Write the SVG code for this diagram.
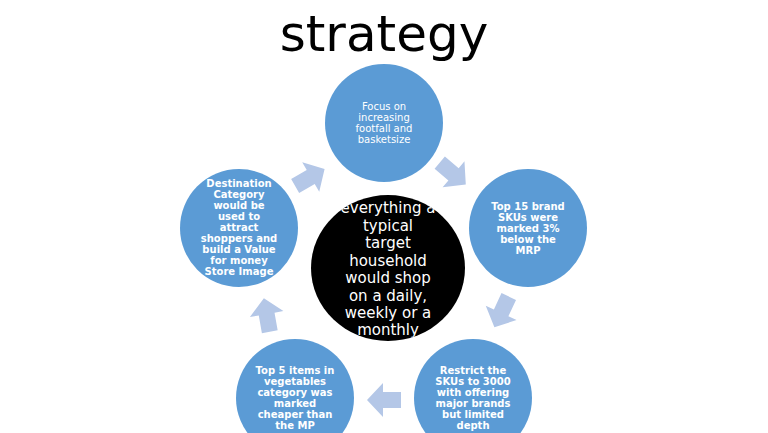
<svg xmlns="http://www.w3.org/2000/svg" width="768" height="433" viewBox="0 0 768 433">
<style>
.c{fill:#5b9bd5}
.t{font-family:"DejaVu Sans",sans-serif;font-size:10px;fill:#fff;text-anchor:middle;font-weight:bold}
.n{font-weight:normal}
.a{fill:#b4c7e7}
.m{font-family:"DejaVu Sans",sans-serif;font-size:15px;fill:#fff;text-anchor:middle}
</style>
<defs>
<clipPath id="cc"><ellipse cx="388" cy="268" rx="77" ry="73"/></clipPath>
<path id="ar" d="M-16,-8 L2,-8 L2,-17 L18,0 L2,17 L2,8 L-16,8 Z"/>
</defs>
<rect width="768" height="433" fill="#fff"/>
<text x="384" y="51" font-family="DejaVu Sans,sans-serif" font-size="50" text-anchor="middle" fill="#000">strategy</text>
<g id="connectors">
<use href="#ar" class="a" transform="translate(452,173) rotate(40)"/>
<use href="#ar" class="a" transform="translate(502,311) rotate(115)"/>
<use href="#ar" class="a" transform="translate(385,400) rotate(180)"/>
<use href="#ar" class="a" transform="translate(267,316) rotate(-100)"/>
<use href="#ar" class="a" transform="translate(309,178) rotate(-30)"/>
</g>
<g id="center">
<ellipse cx="388" cy="268" rx="77" ry="73" fill="#000"/>
<g clip-path="url(#cc)">
<text class="m" x="388" y="213">everything a</text>
<text class="m" x="388" y="231">typical</text>
<text class="m" x="388" y="248">target</text>
<text class="m" x="388" y="266">household</text>
<text class="m" x="388" y="283">would shop</text>
<text class="m" x="388" y="301">on a daily,</text>
<text class="m" x="388" y="318">weekly or a</text>
<text class="m" x="388" y="335">monthly</text>
</g>
</g>
<g id="n1"><circle class="c" cx="384" cy="123" r="59"/>
<text class="t n" x="384" y="110">Focus on</text><text class="t n" x="384" y="121">increasing</text><text class="t n" x="384" y="132">footfall and</text><text class="t n" x="384" y="143">basketsize</text></g>
<g id="n2"><circle class="c" cx="528" cy="228" r="59"/>
<text class="t" x="528" y="210">Top 15 brand</text><text class="t" x="528" y="221">SKUs were</text><text class="t" x="528" y="232">marked 3%</text><text class="t" x="528" y="243">below the</text><text class="t" x="528" y="254">MRP</text></g>
<g id="n3"><circle class="c" cx="473" cy="398" r="59"/>
<text class="t" x="473" y="374">Restrict the</text><text class="t" x="473" y="385">SKUs to 3000</text><text class="t" x="473" y="396">with offering</text><text class="t" x="473" y="407">major brands</text><text class="t" x="473" y="418">but limited</text><text class="t" x="473" y="429">depth</text></g>
<g id="n4"><circle class="c" cx="295" cy="398" r="59"/>
<text class="t" x="295" y="374">Top 5 items in</text><text class="t" x="295" y="385">vegetables</text><text class="t" x="295" y="396">category was</text><text class="t" x="295" y="407">marked</text><text class="t" x="295" y="418">cheaper than</text><text class="t" x="295" y="429">the MP</text></g>
<g id="n5"><circle class="c" cx="239" cy="228" r="59"/>
<text class="t" x="239" y="187">Destination</text><text class="t" x="239" y="198">Category</text><text class="t" x="239" y="209">would be</text><text class="t" x="239" y="220">used to</text><text class="t" x="239" y="231">attract</text><text class="t" x="239" y="242">shoppers and</text><text class="t" x="239" y="253">build a Value</text><text class="t" x="239" y="264">for money</text><text class="t" x="239" y="275">Store Image</text></g>
</svg>
